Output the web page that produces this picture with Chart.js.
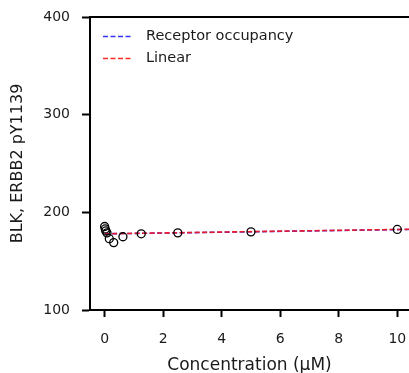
<!DOCTYPE html>
<html>
<head>
<meta charset="utf-8">
<script src="https://cdn.jsdelivr.net/npm/chart.js@4.4.0/dist/chart.umd.min.js"></script>
<style>
  html, body { margin: 0; padding: 0; background: #fff; overflow: hidden; }
  #wrap { width: 409px; height: 373px; }
</style>
</head>
<body>
<div id="wrap"><canvas id="chart"></canvas></div>
<script>
// ── Data ────────────────────────────────────────────────
const concentrations = [0, 0.02, 0.04, 0.08, 0.16, 0.31, 0.625, 1.25, 2.5, 5, 10];
const measured       = [185.5, 183, 181, 179, 173, 169, 175, 178, 179, 180, 182.5];

const occupancyX = [0, 1, 2.5, 5, 10, 10.5];
const occupancyY = [178.1, 178.4, 179.0, 180.1, 182.3, 182.5];
const linearX    = [0, 10.5];
const linearY    = [178.0, 182.7];

const xTicks = [0, 2, 4, 6, 8, 10];
const yTicks = [100, 200, 300, 400];

const FONT = "'DejaVu Sans', sans-serif";
const TEXT = '#1a1a1a';

const toPoints = (xs, ys) => xs.map((x, i) => ({ x: x, y: ys[i] }));

// ── Plugin: top spine + legend inside the plot ──────────
const decor = {
  id: 'decor',
  afterDraw(chart) {
    const { ctx, chartArea } = chart;
    ctx.save();
    ctx.strokeStyle = '#000';
    ctx.lineWidth = 2;
    ctx.beginPath();
    ctx.moveTo(chartArea.left - 1, chartArea.top);
    ctx.lineTo(chartArea.right, chartArea.top);
    ctx.stroke();

    const items = chart.data.datasets.filter(d => d.inLegend);
    items.forEach((ds, i) => {
      const y = 36.5 + i * 22;
      ctx.strokeStyle = ds.borderColor;
      ctx.lineWidth = ds.borderWidth;
      ctx.setLineDash(ds.borderDash);
      ctx.beginPath();
      ctx.moveTo(103, y);
      ctx.lineTo(133, y);
      ctx.stroke();
      ctx.setLineDash([]);
      ctx.fillStyle = TEXT;
      ctx.font = '14.5px ' + FONT;
      ctx.textBaseline = 'middle';
      ctx.fillText(ds.label, 146, y);
    });
    ctx.restore();
  }
};

new Chart(document.getElementById('chart'), {
  type: 'scatter',
  data: {
    datasets: [
      {
        label: 'Data',
        data: toPoints(concentrations, measured),
        showLine: false,
        pointRadius: 4,
        pointBorderWidth: 1.3,
        pointBackgroundColor: 'rgba(0,0,0,0)',
        pointBorderColor: '#000',
        order: 0
      },
      {
        label: 'Receptor occupancy',
        inLegend: true,
        data: toPoints(occupancyX, occupancyY),
        showLine: true,
        pointRadius: 0,
        borderColor: 'rgba(30,30,255,0.9)',
        borderWidth: 1.6,
        borderDash: [5, 2.5],
        order: 2
      },
      {
        label: 'Linear',
        inLegend: true,
        data: toPoints(linearX, linearY),
        showLine: true,
        pointRadius: 0,
        borderColor: 'rgba(255,20,20,0.9)',
        borderWidth: 1.6,
        borderDash: [5, 2.5],
        order: 1
      }
    ]
  },
  options: {
    responsive: true,
    maintainAspectRatio: false,
    animation: false,
    layout: { autoPadding: false, padding: { top: 17, right: 0, left: 0, bottom: 0 } },
    plugins: {
      legend: { display: false },
      tooltip: { enabled: false }
    },
    scales: {
      x: {
        type: 'linear',
        min: -0.5,
        max: 10.4,
        afterBuildTicks: (s) => { s.ticks = xTicks.map(v => ({ value: v })); },
        afterFit: (s) => { s.height = 63; s.paddingLeft = 0; s.paddingRight = 0; },
        border: { display: true, color: '#000', width: 2 },
        grid: { drawOnChartArea: false, drawTicks: true, tickLength: 7, tickColor: '#000', tickWidth: 2 },
        ticks: { color: TEXT, font: { family: FONT, size: 14 }, padding: 14, maxRotation: 0 },
        title: { display: true, text: 'Concentration (μM)', color: TEXT, font: { family: FONT, size: 17 }, padding: { top: 2, bottom: -3 } }
      },
      y: {
        min: 100,
        max: 400,
        afterBuildTicks: (s) => { s.ticks = yTicks.map(v => ({ value: v })); },
        afterFit: (s) => { s.width = 90; s.paddingTop = 0; s.paddingBottom = 0; },
        border: { display: true, color: '#000', width: 2 },
        grid: { drawOnChartArea: false, drawTicks: true, tickLength: 8, tickColor: '#000', tickWidth: 2 },
        ticks: { color: TEXT, font: { family: FONT, size: 14 }, padding: 12 },
        title: { display: true, text: 'BLK, ERBB2 pY1139', color: TEXT, font: { family: FONT, size: 16 }, padding: { top: 8, bottom: 4 } }
      }
    }
  },
  plugins: [decor]
});
</script>
</body>
</html>
